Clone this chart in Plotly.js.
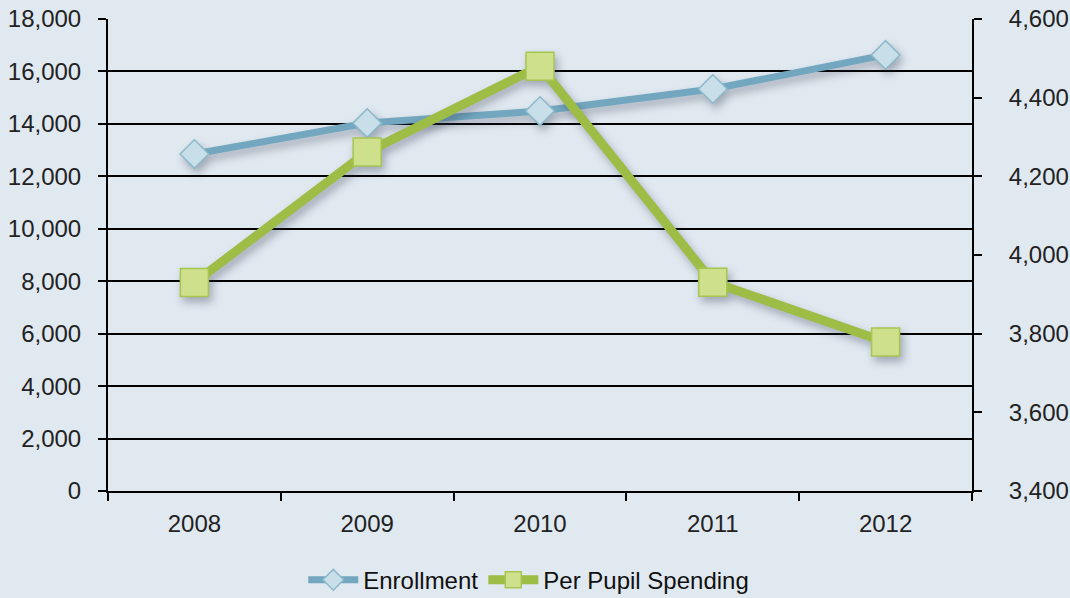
<!DOCTYPE html>
<html><head><meta charset="utf-8">
<script src="https://cdn.plot.ly/plotly-3.0.1.min.js"></script>
<style>html,body{margin:0;padding:0;background:#e0e8f0;}#chart{width:1070px;height:598px;}
#chart .scatterlayer .trace{filter: drop-shadow(3px 5px 4px rgba(40,50,70,0.35));}</style>
</head><body><div id="chart"></div>
<script>
var years = ["2008","2009","2010","2011","2012"];
var enrollment = [12850, 14030, 14490, 15330, 16630];
var perPupilSpending = [3930, 4262, 4480, 3931, 3779];

var traces = [
  {x: years, y: enrollment, name: "Enrollment", type: "scatter", mode: "lines+markers",
   line: {color: "#72a7bf", width: 7},
   marker: {symbol: "diamond", size: 22, color: "#c8dee8", line: {color: "#8cb9cb", width: 1.5}}},
  {x: years, y: perPupilSpending, name: "Per Pupil Spending", type: "scatter", mode: "lines+markers", yaxis: "y2",
   line: {color: "#9dbd47", width: 9},
   marker: {symbol: "square", size: 28, color: "#cfe08c", line: {color: "#a6c551", width: 1.5}}}
];

var layout = {
  width: 1070, height: 598,
  paper_bgcolor: "#e0e8f0", plot_bgcolor: "#e0e8f0",
  margin: {l: 108, r: 98, t: 19, b: 107, autoexpand: false},
  font: {family: "Liberation Sans, Arial, sans-serif", color: "#1a1a1a"},
  showlegend: true,
  legend: {orientation: "h", x: 0.487, xanchor: "center", y: -0.189, yanchor: "middle",
           font: {size: 24, color: "#111"}, bgcolor: "rgba(0,0,0,0)", itemwidth: 50},
  xaxis: {type: "category", range: [-0.5, 4.5], showgrid: false, showline: true, linecolor: "#000", linewidth: 2,
          ticks: "outside", tickson: "boundaries", ticklen: 8, tickwidth: 2, tickcolor: "#000",
          ticklabelstandoff: 10, tickfont: {size: 24, color: "#222"}, zeroline: false},
  yaxis: {range: [0, 18000], dtick: 2000, tickformat: ",d", showgrid: true, gridcolor: "#000", gridwidth: 2,
          showline: true, linecolor: "#000", linewidth: 2, ticks: "outside", ticklen: 8, tickwidth: 2, tickcolor: "#000",
          ticklabelstandoff: 12, tickfont: {size: 24, color: "#222"}, zeroline: false},
  yaxis2: {range: [3400, 4600], dtick: 200, tickformat: ",d", overlaying: "y", side: "right", showgrid: false,
           showline: true, linecolor: "#000", linewidth: 2, ticks: "outside", ticklen: 8, tickwidth: 2, tickcolor: "#000",
           ticklabelstandoff: 22, tickfont: {size: 24, color: "#222"}, zeroline: false}
};

Plotly.newPlot("chart", traces, layout, {displayModeBar: false, staticPlot: true});
</script></body></html>
